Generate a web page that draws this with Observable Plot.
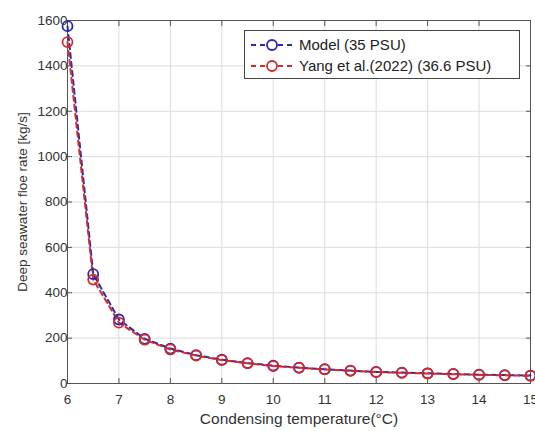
<!DOCTYPE html>
<html>
<head>
<meta charset="utf-8">
<script src="https://cdn.jsdelivr.net/npm/d3@7"></script>
<script src="https://cdn.jsdelivr.net/npm/@observablehq/plot@0.6"></script>
<style>
  html, body { margin: 0; padding: 0; background: #fff; }
  #wrap { position: relative; width: 535px; height: 431px; font-family: "Liberation Sans", Arial, sans-serif; }
  #legend { position: absolute; left: 244px; top: 30px; width: 276px; height: 49px; border: 1px solid #444; background: #fff; box-sizing: border-box; font-size: 15px; color: #222; padding: 3px 0 0 5px; }
  #legend .row { height: 21px; display: flex; align-items: center; white-space: nowrap; }
  #legend svg { margin-right: 5px; }
</style>
</head>
<body>
<div id="wrap"></div>
<script>
const temps = [6, 6.5, 7, 7.5, 8, 8.5, 9, 9.5, 10, 10.5, 11, 11.5, 12, 12.5, 13, 13.5, 14, 14.5, 15];
const modelFlow = [1575, 482, 282, 197, 154, 125, 105, 90, 79, 70, 63, 57, 51, 48, 45, 42, 39, 37, 35];
const yangFlow = [1505, 458, 268, 193, 150, 123, 103, 89, 77, 69, 62, 56, 50, 47, 44, 41, 38, 36, 34];
const xTicks = [6, 7, 8, 9, 10, 11, 12, 13, 14, 15];
const yTicks = [0, 200, 400, 600, 800, 1000, 1200, 1400, 1600];
const seriesNames = ["Model (35 PSU)", "Yang et al.(2022) (36.6 PSU)"];
const seriesColors = ["#2a2aa8", "#d42a2a"];

const data = [];
temps.forEach((t, i) => {
  data.push({t, v: modelFlow[i], s: seriesNames[0]});
  data.push({t, v: yangFlow[i], s: seriesNames[1]});
});

const chart = Plot.plot({
  width: 535,
  height: 431,
  marginLeft: 67,
  marginRight: 5,
  marginTop: 20,
  marginBottom: 48,
  style: { fontFamily: "Liberation Sans, Arial, sans-serif", fontSize: "13px", color: "#333", background: "#fff" },
  x: { domain: [6, 15], ticks: xTicks, label: null },
  y: { domain: [0, 1600], ticks: yTicks, label: null },
  color: { domain: seriesNames, range: seriesColors },
  marks: [
    Plot.gridX(xTicks, { stroke: "#dcdcdc", strokeOpacity: 1 }),
    Plot.gridY(yTicks, { stroke: "#dcdcdc", strokeOpacity: 1 }),
    Plot.frame({ stroke: "#555", strokeWidth: 1 }),
    Plot.axisX(xTicks, { anchor: "bottom", tickSize: -5, tickPadding: 16, tickFormat: "d", stroke: "#555", fontSize: 13.5, fill: "#333" }),
    Plot.axisX(xTicks, { anchor: "top", tickSize: -5, text: null, stroke: "#555" }),
    Plot.axisY(yTicks, { anchor: "left", tickSize: -5, tickPadding: 5, tickFormat: "d", stroke: "#555", fontSize: 13.5, fill: "#333" }),
    Plot.axisY(yTicks, { anchor: "right", tickSize: -5, text: null, stroke: "#555" }),
    Plot.axisX({ anchor: "bottom", ticks: [], label: "Condensing temperature(°C)", labelAnchor: "center", labelArrow: "none", labelOffset: 40, fontSize: 15.5, fill: "#333" }),
    Plot.axisY({ anchor: "left", ticks: [], label: "Deep seawater floe rate [kg/s]", labelAnchor: "center", labelArrow: "none", labelOffset: 50, fontSize: 13.5, fill: "#333" }),
    Plot.line(data, { x: "t", y: "v", z: "s", stroke: "s", strokeWidth: 2, strokeDasharray: "5,4" }),
    Plot.dot(data, { x: "t", y: "v", stroke: "s", r: 5, strokeWidth: 1.8, fill: "none" })
  ]
});

const wrap = document.getElementById("wrap");
wrap.appendChild(chart);

const legend = document.createElement("div");
legend.id = "legend";
seriesNames.forEach((name, i) => {
  const row = document.createElement("div");
  row.className = "row";
  const c = seriesColors[i];
  row.innerHTML = `<svg width="44" height="14"><line x1="1" y1="7" x2="43" y2="7" stroke="${c}" stroke-width="2" stroke-dasharray="5,4"/><circle cx="22" cy="7" r="5" fill="#fff" stroke="${c}" stroke-width="1.8"/></svg><span>${name}</span>`;
  legend.appendChild(row);
});
wrap.appendChild(legend);
</script>
</body>
</html>
